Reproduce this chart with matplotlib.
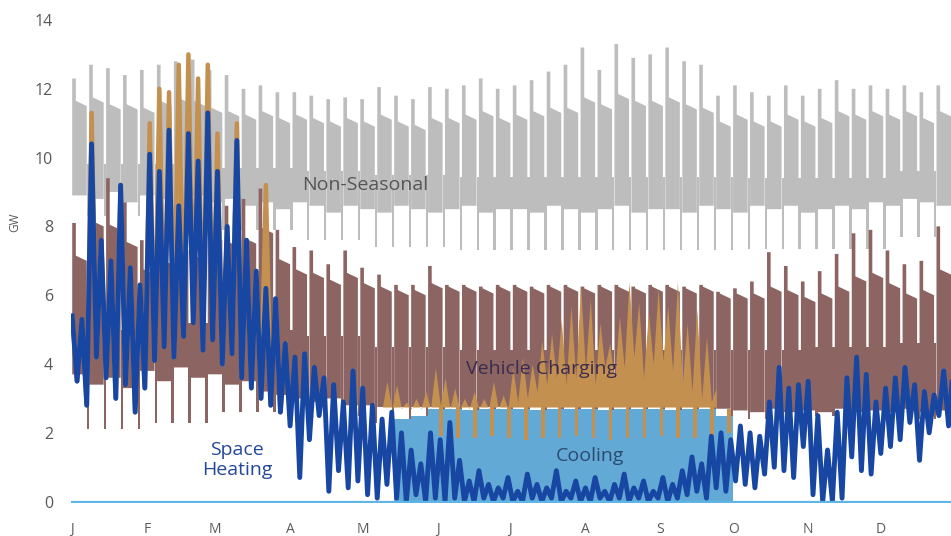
import numpy as np
import matplotlib.pyplot as plt

plt.rcParams["font.family"] = ["Open Sans", "DejaVu Sans"]

months = ["J", "F", "M", "A", "M", "J", "J", "A", "S", "O", "N", "D"]
month_start = [0, 31, 59, 90, 120, 151, 181, 212, 243, 273, 304, 334]

# Non-seasonal load, one column per week (GW)
base_peak = [12.3, 12.7, 12.6, 12.4, 12.55, 12.7, 12.8, 12.85, 12.55, 12.4,
             12.0, 12.1, 11.9, 11.9, 11.8, 11.7, 11.75, 11.7, 12.05, 11.8,
             11.7, 12.05, 12.0, 12.1, 12.3, 12.0, 12.1, 12.25, 12.5, 12.7,
             13.2, 12.55, 13.3, 12.9, 13.0, 13.2, 12.8, 12.7, 11.8, 12.1,
             11.9, 11.8, 12.1, 11.8, 12.0, 12.25, 12.0, 12.1, 12.0, 12.1,
             11.9, 12.1, 12.0]
base_shoulder = [11.5, 11.6, 11.4, 11.4, 11.3, 11.5, 11.6, 11.5, 11.3, 11.2,
                 11.1, 11.2, 11.0, 11.1, 11.0, 10.9, 11.0, 10.9, 11.1, 10.9,
                 10.8, 11.0, 11.0, 11.1, 11.2, 11.0, 11.1, 11.2, 11.3, 11.3,
                 11.6, 11.4, 11.7, 11.5, 11.5, 11.6, 11.4, 11.3, 10.9, 11.1,
                 10.9, 10.9, 11.1, 10.9, 11.0, 11.2, 11.1, 11.2, 11.1, 11.2,
                 11.0, 11.2, 11.1]
base_floor = [8.9, 8.8, 9.0, 8.7, 8.9, 8.8, 8.6, 8.9, 8.7, 8.8,
              8.6, 8.7, 8.5, 8.7, 8.6, 8.4, 8.6, 8.5, 8.4, 8.6,
              8.5, 8.4, 8.5, 8.6, 8.4, 8.5, 8.5, 8.4, 8.6, 8.5,
              8.4, 8.5, 8.6, 8.4, 8.5, 8.5, 8.4, 8.6, 8.5, 8.4,
              8.6, 8.5, 8.6, 8.4, 8.5, 8.6, 8.5, 8.7, 8.6, 8.8,
              8.7, 8.6, 8.8]
# monthly weekend dip / weekend ceiling
base_dip = [8.3, 8.1, 7.9, 7.6, 7.4, 7.3, 7.3, 7.3, 7.3, 7.35, 7.35, 7.7]
base_wkend = [9.8, 9.8, 9.7, 9.6, 9.5, 9.45, 9.45, 9.45, 9.45, 9.4, 9.4, 9.6]

# Vehicle charging, weekly columns (GW)
ev_peak = [8.1, 9.6, 9.4, 8.7, 7.6, 8.1, 8.6, 8.2, 8.9, 8.6,
           8.8, 9.1, 7.9, 7.4, 7.3, 6.9, 7.3, 6.8, 6.6, 6.3,
           6.3, 6.85, 6.3, 6.3, 6.25, 6.3, 6.3, 6.25, 6.3, 6.3,
           6.25, 6.3, 6.3, 6.25, 6.3, 6.3, 6.25, 6.3, 6.1, 6.2,
           6.4, 7.25, 6.85, 6.4, 6.7, 7.2, 7.8, 7.9, 7.3, 6.9,
           7.0, 8.0, 7.8]
ev_shoulder = [7.0, 8.0, 7.9, 7.4, 6.6, 6.9, 7.3, 7.0, 7.6, 7.4,
               7.5, 7.8, 6.9, 6.6, 6.5, 6.3, 6.5, 6.2, 6.1, 6.0,
               6.0, 6.2, 6.1, 6.1, 6.05, 6.1, 6.1, 6.05, 6.1, 6.1,
               6.05, 6.1, 6.1, 6.05, 6.1, 6.1, 6.05, 6.1, 5.9, 5.9,
               5.9, 6.1, 6.0, 5.8, 5.9, 6.1, 6.4, 6.5, 6.2, 5.9,
               6.0, 6.6, 6.5]
ev_floor = [3.7, 3.4, 3.6, 3.3, 3.8, 3.5, 3.9, 3.6, 3.7, 3.4,
            3.5, 3.2, 3.1, 3.0, 2.9, 3.0, 2.8, 2.8, 2.75, 2.75,
            2.75, 2.75, 2.75, 2.75, 2.75, 2.75, 2.75, 2.75, 2.75, 2.75,
            2.75, 2.75, 2.75, 2.75, 2.75, 2.75, 2.75, 2.75, 2.7, 2.65,
            2.6, 2.7, 2.6, 2.65, 2.6, 2.7, 2.6, 2.65, 2.6, 2.7,
            2.6, 2.65, 2.7]
ev_dip = [2.1, 2.3, 2.6, 2.5, 2.3, 2.2, 2.2, 2.2, 2.2, 2.4, 2.5, 2.4]
ev_wkend = [5.0, 5.2, 5.0, 4.8, 4.5, 4.4, 4.4, 4.4, 4.4, 4.4, 4.5, 4.6]

# Cooling, weekly (GW); None = no cooling load
cool_top = [None] * 19 + [2.4, 2.5,
            2.7, 2.7, 2.65, 2.7, 2.7, 2.7, 2.65, 2.7, 2.7,
            2.7, 2.65, 2.7, 2.7, 2.7, 2.65, 2.7, 2.7, 2.5] + [None] * 14
cool_dip = [None] * 21 + [1.9, 1.85, 1.85, 1.9, 1.85, 1.8, 1.85, 1.85, 1.9,
                          1.85, 1.8, 1.85, 1.85, 1.9, 1.85, 1.85, 1.9, 2.0] + [None] * 14

# Space heating, sampled every 2 days (GW)
heating = [5.4, 3.5, 5.3, 2.8, 10.4, 4.2, 7.6, 3.6, 7.0, 3.0, 9.2, 3.4, 6.8, 2.6, 6.3, 3.3,
           10.1, 4.1, 9.6, 4.5, 10.8, 4.2, 8.6, 4.8, 10.7, 5.2, 9.9, 4.4, 11.3, 4.7,
           9.6, 4.0, 8.0, 4.3, 10.5, 3.6, 7.6, 3.3, 6.7, 3.0, 6.2, 2.8, 5.9, 2.6, 4.6,
           2.2, 4.2, 0.7, 4.3, 1.8, 3.9, 2.5, 3.6, 0.3, 3.4, 0.9, 2.9, 0.4, 3.8, 0.6,
           3.3, 0.2, 2.8, 0.1, 2.4, 0.5, 2.6, 0.1, 2.0, 0.0, 1.5, 0.2, 1.1, 0.0, 2.0, 0.1,
           1.8, 0.0, 2.3, 0.1, 1.2, 0.0, 0.6, 0.0, 0.9, 0.1, 0.5, 0.0, 0.4, 0.1, 0.7,
           0.0, 0.3, 0.0, 0.8, 0.1, 0.5, 0.0, 0.4, 0.1, 0.9, 0.0, 0.3, 0.1, 0.6, 0.0,
           0.4, 0.0, 0.7, 0.1, 0.3, 0.0, 0.5, 0.1, 0.8, 0.0, 0.4, 0.1, 0.6, 0.0, 0.3, 0.1,
           0.7, 0.0, 0.5, 0.1, 0.9, 0.2, 1.3, 0.3, 1.1, 0.1, 1.9, 0.4, 2.0, 0.3, 1.8,
           0.6, 2.2, 0.5, 2.0, 0.4, 1.9, 0.8, 2.9, 1.0, 3.9, 0.9, 3.3, 0.7, 3.4, 1.6,
           3.5, 0.2, 2.5, 0.0, 1.5, 0.0, 2.6, 0.1, 3.6, 1.3, 4.2, 0.9, 3.7, 0.8, 2.9,
           1.4, 3.3, 1.6, 3.6, 1.8, 3.9, 2.3, 3.4, 1.2, 3.2, 2.0, 3.1, 2.5, 3.8, 2.2, 4.0]

# Heating + cooling, same 2-day grid (GW); None = hidden
combined = ([5.4, 3.5, 5.3, 2.8, 11.3, 4.2, 7.6, 3.6, 7.0, 3.0, 9.2, 3.4, 6.8, 2.6, 6.3, 3.3,
             11.0, 4.1, 12.0, 4.5, 11.9, 4.2, 12.7, 4.8, 13.0, 5.2, 12.3, 4.4, 12.7, 4.7,
             10.7, 4.0, 8.0, 4.3, 11.0, 3.6, 7.6, 3.3, 6.7, 3.0, 9.2, 2.8, 5.9, 2.6, 4.6]
            + [None] * 19
            + [2.7, 3.5, 2.7, 3.4, 2.7, 2.9, 2.7, 3.0, 2.7, 3.2, 2.7, 3.9, 2.8, 3.6, 2.7,
               3.3, 2.7, 3.0, 2.7, 3.2, 2.7, 3.0, 2.7, 3.5, 2.7, 3.1, 2.7, 3.9, 2.9, 4.2,
               3.0, 4.0, 3.2, 4.7, 3.4, 4.9, 3.6, 5.3, 3.4, 5.7, 3.6, 6.3, 3.8, 5.9, 3.4,
               5.2, 3.9, 4.6, 3.5, 5.4, 3.9, 6.4, 4.2, 5.8, 3.6, 5.5, 4.0, 6.2, 4.1, 5.7,
               3.8, 6.4, 3.4, 5.2, 3.2, 5.6, 3.0, 4.8, 2.9, 3.3]
            + [None] * 49)

GRAY = "#bdbdbd"
BROWN = "#8c6563"
ORANGE = "#c3904f"
LIGHT = "#63a9d6"
BLUE = "#1747a2"
LINE = "#5fb6e6"


def week_month(n):
    return np.searchsorted(month_start, np.arange(n) * 7 + 3, side="right") - 1


def weekly_columns(ax, peak, shoulder, floor, dip, wkend, color, z):
    mi = week_month(len(peak))
    for w in range(len(peak)):
        x0 = 7 * w
        ax.fill([x0, x0, x0 + 1.5, x0 + 1.5, x0 + 6.0, x0 + 6.0],
                [floor[w], peak[w], peak[w], shoulder[w] + 0.15, shoulder[w], floor[w]],
                color=color, lw=0, zorder=z)
    lo = np.array(dip)[mi]
    hi = np.array(wkend)[mi]
    ax.bar(np.arange(len(peak)) * 7 + 6.0, hi - lo, bottom=lo, width=1.0,
           align="edge", color=color, lw=0, zorder=z)


fig = plt.figure(figsize=(9.51, 5.36), dpi=100)
ax = fig.add_axes([71 / 951, 33 / 536, 880 / 951, 483 / 536])

weekly_columns(ax, base_peak, base_shoulder, base_floor, base_dip, base_wkend, GRAY, 1)
weekly_columns(ax, ev_peak, ev_shoulder, ev_floor, ev_dip, ev_wkend, BROWN, 2)

wk = np.arange(len(cool_top))
ct = np.array(cool_top, dtype=float)
ok = ~np.isnan(ct)
ax.bar(wk[ok] * 7, ct[ok], width=7, align="edge", color=LIGHT, lw=0, zorder=3)

cd = np.array(cool_dip, dtype=float)
ok = ~np.isnan(cd)
evf = np.array(ev_floor)
ax.bar(wk[ok] * 7 + 4.6, evf[ok] - cd[ok], bottom=cd[ok], width=1.5, align="edge",
       color=ORANGE, lw=0, zorder=4)

days2 = np.arange(len(heating)) * 2
comb = np.array(combined, dtype=float)
summer = days2 >= 120
ax.plot(days2, np.where(summer, np.nan, comb), color=ORANGE, lw=3.2, zorder=4)
ax.fill_between(days2, 2.75, comb, where=summer & ~np.isnan(comb),
                color=ORANGE, lw=0, zorder=4)
ax.plot(days2, heating, color=BLUE, lw=3.5, zorder=5)
ax.axhline(0, color=LINE, lw=1.6, zorder=6)

ax.text(121, 9.2, "Non-Seasonal", color="#555555", fontsize=14, ha="center", va="center", zorder=10)
ax.text(194, 3.85, "Vehicle Charging", color="#3a2b4f", fontsize=14, ha="center", va="center", zorder=10)
ax.text(214, 1.33, "Cooling", color="#2a4b6e", fontsize=14, ha="center", va="center", zorder=10)
ax.text(68, 1.2, "Space\nHeating", color="#23479a", fontsize=14, ha="center", va="center",
        linespacing=1.15, zorder=10)

ax.set_xlim(-0.5, 363)
ax.set_ylim(-0.04, 14)
ax.set_yticks(range(0, 15, 2))
ax.set_xticks(month_start)
ax.set_xticklabels(months)
ax.tick_params(axis="y", length=0, pad=13, labelsize=11.5, colors="#595959")
ax.tick_params(axis="x", length=0, pad=14, labelsize=10, colors="#595959")
for s in ax.spines.values():
    s.set_visible(False)
fig.text(15 / 951, 1 - 222 / 536, "GW", rotation=90, fontsize=8.5, color="#595959",
         ha="center", va="center")

fig.savefig("out.png", dpi=100)
